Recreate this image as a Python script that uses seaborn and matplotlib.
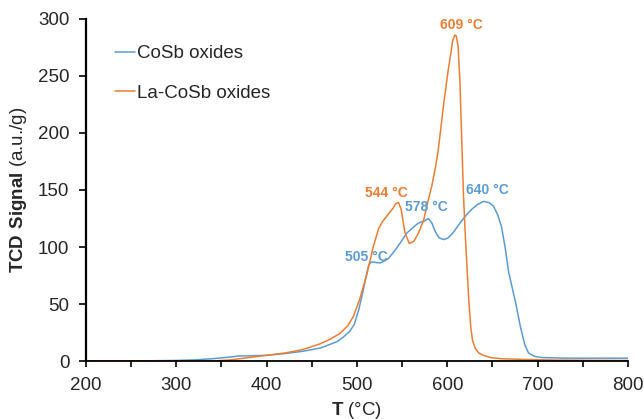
import matplotlib
matplotlib.use("Agg")
import matplotlib.pyplot as plt
from matplotlib.ticker import MultipleLocator
import seaborn as sns
import pandas as pd

# CoSb oxides TPR profile
t_cosb = [200, 250, 300, 320, 340, 360, 370, 380, 400, 420, 440, 460, 478, 485, 492,
          497, 502, 507, 510, 513, 516, 520, 526, 531, 535, 540, 544, 550, 555, 562, 568,
          575, 579, 583, 587, 591, 596, 601, 607, 614, 621, 627, 633, 640, 646, 651,
          656, 660, 664, 668, 672, 676, 681, 686, 690, 697, 705, 730, 760, 800]
s_cosb = [0, 0, 0.5, 1, 2, 3.5, 4.5, 4.5, 5, 6.5, 8.5, 11.5, 17, 21, 26,
          32, 45, 62, 74, 84, 87, 86.5, 86, 88, 90, 95, 99, 106, 112, 117, 121,
          123, 125, 121, 113, 108, 106.5, 108, 113, 121, 128, 133, 137, 140, 139, 136,
          128, 118, 100, 78, 64, 50, 30, 14, 7, 4, 3, 2.5, 2.5, 2.5]

# La-CoSb oxides TPR profile
t_lacosb = [200, 300, 340, 360, 380, 400, 420, 440, 459, 470, 481, 490, 496, 503, 511,
            518, 524, 528, 533, 540, 543, 546, 549, 553, 558, 563, 568, 574, 578, 583,
            587, 590, 593, 596, 599, 601, 604, 606, 608.5, 610, 612, 614, 616, 618, 620,
            622, 624, 626, 628, 631, 635, 640, 648, 660, 680, 720, 800]
s_lacosb = [0, 0, 0, 1, 3, 5, 7, 10, 15, 19, 24, 31, 39, 54, 76,
            100, 116, 122, 127, 134, 138, 139, 133, 113, 103, 105, 112, 124, 138, 154,
            170, 185, 205, 225, 243, 255, 270, 281, 286, 285, 276, 245, 195, 145, 110,
            80, 52, 30, 18, 11, 7, 5, 3, 2, 1.5, 0.8, 0.5]

series_names = ["CoSb oxides", "La-CoSb oxides"]
colors = ["#5B9BD5", "#ED7D31"]

# peak labels: (text, x, y, series index)
peak_labels = [("505 °C", 511, 91, 0), ("578 °C", 577, 135, 0), ("640 °C", 644, 150, 0),
               ("544 °C", 533, 147, 1), ("609 °C", 616, 295, 1)]

df = pd.concat([
    pd.DataFrame({"T": t_cosb, "signal": s_cosb, "sample": series_names[0]}),
    pd.DataFrame({"T": t_lacosb, "signal": s_lacosb, "sample": series_names[1]}),
])

sns.set_style("ticks")
plt.rcParams["font.family"] = ["Liberation Sans", "DejaVu Sans"]
plt.rcParams["mathtext.fontset"] = "custom"
plt.rcParams["mathtext.rm"] = "Liberation Sans"
plt.rcParams["mathtext.bf"] = "Liberation Sans:bold"

fig = plt.figure(figsize=(6.44, 4.19), dpi=100)
ax = fig.add_axes([0.1335, 0.1384, 0.8415, 0.8163])

sns.lineplot(data=df, x="T", y="signal", hue="sample", palette=colors,
             linewidth=1.1, ax=ax, sort=False, estimator=None)

for txt, x, y, i in peak_labels:
    ax.text(x, y, txt, color=colors[i], fontsize=10, fontweight="bold",
            ha="center", va="center")

ax.set_xlim(200, 800)
ax.set_ylim(0, 300)
ax.xaxis.set_major_locator(MultipleLocator(100))
ax.xaxis.set_minor_locator(MultipleLocator(50))
ax.yaxis.set_major_locator(MultipleLocator(50))
ax.tick_params(axis="both", which="both", direction="out", length=4.5, width=1.2,
               color="black", labelsize=13.5, pad=7)
ax.tick_params(axis="y", length=5)

sns.despine(ax=ax)
ax.spines["left"].set_linewidth(1.6)
ax.spines["bottom"].set_linewidth(1.3)
ax.spines["left"].set_color("black")
ax.spines["bottom"].set_color("black")

ax.set_xlabel(r"$\bf{T}$ (°C)", fontsize=13.5, labelpad=4)
ax.set_ylabel(r"$\bf{TCD\ Signal}$ (a.u./g)", fontsize=13.5, labelpad=6)

leg = ax.legend(loc="upper left", bbox_to_anchor=(0.04, 0.945), frameon=False,
                fontsize=13.5, handlelength=1.05, handletextpad=0.1, labelspacing=1.2,
                borderaxespad=0)

fig.savefig("out.png", dpi=100)
